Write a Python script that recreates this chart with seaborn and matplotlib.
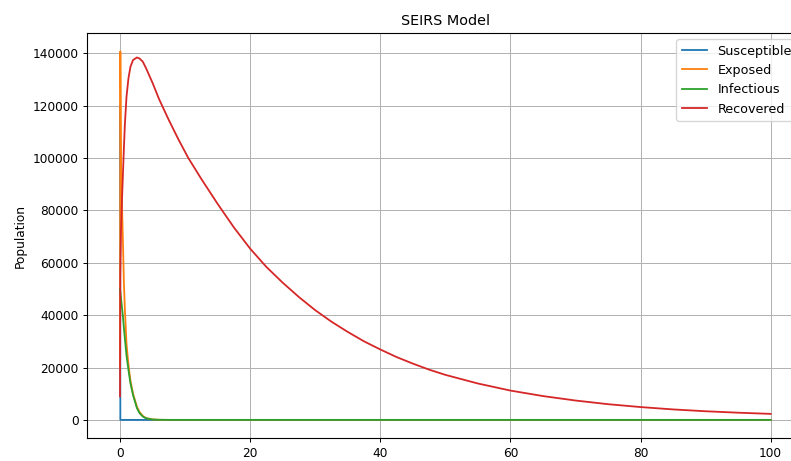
import matplotlib
matplotlib.use("Agg")
import matplotlib.pyplot as plt
import seaborn as sns

# time points (days)
t = [0, 0.05, 0.15, 0.3, 0.45, 0.6, 0.75, 1.0, 1.3, 1.6, 2.0, 2.6, 3.0, 3.5, 4.0,
     5, 6, 7.5, 9, 10.5, 12.5, 15, 17.5, 20, 22.5, 25, 27.5, 30, 32.5, 35, 37.5,
     40, 42.5, 45, 47.5, 50, 55, 60, 65, 70, 75, 80, 85, 90, 95, 100]

susceptible = [120000] + [0] * (len(t) - 1)

exposed = [20000, 140700, 96000, 82000, 68000, 52000, 42000, 29000, 21000, 15000,
           10000, 5000, 3000, 1500, 700, 170, 40] + [0] * (len(t) - 17)

infectious = [50000, 49000, 46500, 43000, 39500, 35000, 31000, 24500, 19000, 14000,
              9500, 4500, 2600, 1300, 600, 150, 40] + [0] * (len(t) - 17)

recovered = [9000, 55000, 72000, 84000, 94000, 104000, 113000, 123500, 130500, 134800,
             137400, 138400, 138000, 136800, 134300, 128700, 122500, 114500, 107000,
             100000, 92000, 82500, 73500, 65400, 58400, 52400, 46900, 41900, 37500,
             33600, 30000, 26900, 24000, 21500, 19200, 17200, 13900, 11200, 9100,
             7400, 6000, 4900, 4000, 3300, 2750, 2300]

series = {
    "Susceptible": susceptible,
    "Exposed": exposed,
    "Infectious": infectious,
    "Recovered": recovered,
}
colors = sns.color_palette("tab10", 4)

fs = 8.7
fig = plt.figure(figsize=(7.91, 4.61), dpi=100)
ax = fig.add_axes([0.1106, 0.0492, 0.9048, 0.8792])

for (name, vals), c in zip(series.items(), colors):
    sns.lineplot(x=t, y=vals, label=name, color=c, linewidth=1.3, ax=ax)

ax.set_title("SEIRS Model", fontsize=10.4)
ax.set_ylabel("Population", fontsize=fs)
ax.tick_params(labelsize=fs, width=0.7, length=3)
ax.grid(True, linewidth=0.7)
ax.spines["right"].set_visible(False)  # sits past the cropped edge in the original
ax.legend(loc="upper right", fontsize=9.2)

fig.savefig("out.png", dpi=100)
